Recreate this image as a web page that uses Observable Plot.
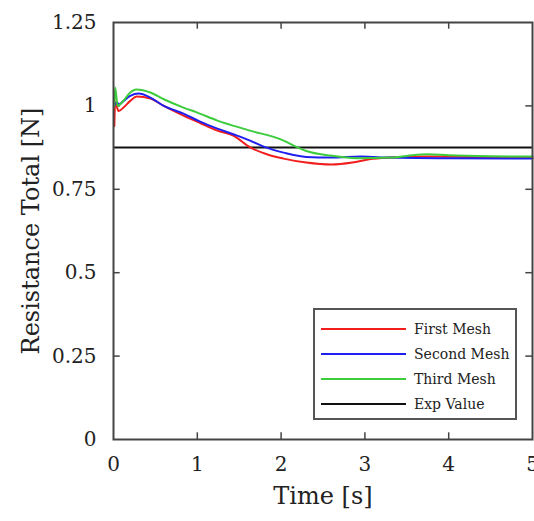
<!DOCTYPE html>
<html>
<head>
<meta charset="utf-8">
<script src="https://cdn.jsdelivr.net/npm/d3@7"></script>
<script src="https://cdn.jsdelivr.net/npm/@observablehq/plot@0.6"></script>
<style>
  body { margin: 0; background: #fff; }
  #wrap { position: relative; width: 534px; height: 521px; font-family: "DejaVu Serif", serif; }
  #legend { position: absolute; left: 313px; top: 308px; width: 200px; height: 108px; border: 2px solid #555; background: #fff; box-sizing: content-box; }
  .row { position: absolute; left: 0; height: 25px; display: flex; align-items: center; }
  .sw { width: 85px; height: 2px; margin-left: 6px; margin-right: 8px; }
  .lt { font-size: 14px; color: #222; }
</style>
</head>
<body>
<div id="wrap"></div>
<script>
const seriesNames = ["First Mesh", "Second Mesh", "Third Mesh", "Exp Value"];
const seriesColors = ["#f21d1d", "#1f1ff0", "#3ccc3c", "#111111"];

const firstT = [0.01, 0.02, 0.06, 0.12, 0.2, 0.28, 0.44, 0.6, 0.835, 1.04, 1.24, 1.43, 1.63, 1.83, 2.03, 2.3, 2.6, 2.85, 3.05, 3.3, 3.75, 4.5, 5.0];
const firstV = [0.94, 1.012, 0.985, 0.995, 1.015, 1.028, 1.022, 1.0, 0.971, 0.948, 0.926, 0.911, 0.876, 0.855, 0.842, 0.83, 0.824, 0.83, 0.84, 0.845, 0.848, 0.846, 0.845];

const secondT = [0.01, 0.04, 0.07, 0.12, 0.2, 0.3, 0.44, 0.6, 0.835, 1.04, 1.24, 1.43, 1.63, 1.8, 2.03, 2.3, 2.6, 2.95, 3.3, 4.0, 5.0];
const secondV = [1.0, 1.01, 1.005, 1.015, 1.03, 1.037, 1.025, 1.0, 0.977, 0.952, 0.932, 0.915, 0.896, 0.877, 0.86, 0.847, 0.845, 0.848, 0.845, 0.843, 0.842];

const thirdT = [0.01, 0.02, 0.05, 0.1, 0.2, 0.27, 0.35, 0.44, 0.6, 0.835, 1.0, 1.24, 1.63, 2.03, 2.15, 2.3, 2.59, 2.9, 3.3, 3.5, 3.75, 4.0, 4.5, 5.0];
const thirdV = [1.0, 1.055, 1.0, 1.01, 1.04, 1.049, 1.047, 1.04, 1.02, 0.995, 0.98, 0.956, 0.926, 0.896, 0.881, 0.865, 0.851, 0.843, 0.845, 0.85, 0.855, 0.852, 0.849, 0.848];

const expValue = 0.875;

const xTicks = [0, 1, 2, 3, 4, 5];
const xTickLabels = ["0", "1", "2", "3", "4", "5"];
const yTicks = [0, 0.25, 0.5, 0.75, 1, 1.25];
const yTickLabels = ["0", "0.25", "0.5", "0.75", "1", "1.25"];
const xTitle = "Time [s]";
const yTitle = "Resistance Total [N]";

const toRows = (T, V, name) => T.map((t, i) => ({t, v: V[i], name}));
const data = [
  ...toRows(firstT, firstV, seriesNames[0]),
  ...toRows(secondT, secondV, seriesNames[1]),
  ...toRows(thirdT, thirdV, seriesNames[2])
];

const chart = Plot.plot({
  width: 534,
  height: 521,
  marginLeft: 113,
  marginRight: 2,
  marginTop: 22,
  marginBottom: 82,
  style: { fontFamily: "DejaVu Serif, serif", color: "#222", background: "#fff" },
  x: { domain: [0, 5] },
  y: { domain: [0, 1.25] },
  color: { domain: seriesNames, range: seriesColors },
  marks: [
    Plot.axisX({ ticks: xTicks, tickFormat: d => xTickLabels[xTicks.indexOf(d)], tickSize: 0, tickPadding: 17, fontSize: 20, label: null }),
    Plot.axisY({ ticks: yTicks, tickFormat: d => yTickLabels[yTicks.indexOf(d)], tickSize: 0, tickPadding: 17, fontSize: 20, label: null }),
    Plot.ruleX(xTicks.slice(1, -1), { x: d => d, y1: 0, y2: 0.02, stroke: "#444", strokeWidth: 1.5 }),
    Plot.ruleX(xTicks.slice(1, -1), { x: d => d, y1: 1.25, y2: 1.23, stroke: "#444", strokeWidth: 1.5 }),
    Plot.ruleY(yTicks.slice(1, -1), { y: d => d, x1: 0, x2: 0.08, stroke: "#444", strokeWidth: 1.5 }),
    Plot.ruleY(yTicks.slice(1, -1), { y: d => d, x1: 5, x2: 4.92, stroke: "#444", strokeWidth: 1.5 }),
    Plot.ruleY([expValue], { stroke: seriesColors[3], strokeWidth: 2 }),
    Plot.line(data, { x: "t", y: "v", z: "name", stroke: "name", strokeWidth: 2, curve: "monotone-x" }),
    Plot.frame({ stroke: "#444", strokeWidth: 2 }),
    Plot.text([xTitle], { frameAnchor: "bottom", dy: 64, fontSize: 24, fill: "#222" }),
    Plot.text([yTitle], { frameAnchor: "left", textAnchor: "middle", rotate: -90, dx: -82, fontSize: 24, fill: "#222" })
  ]
});

const wrap = document.getElementById("wrap");
wrap.appendChild(chart);

const legend = document.createElement("div");
legend.id = "legend";
seriesNames.forEach((name, i) => {
  const row = document.createElement("div");
  row.className = "row";
  row.style.top = (6 + i * 25) + "px";
  const sw = document.createElement("div");
  sw.className = "sw";
  sw.style.background = seriesColors[i];
  const lt = document.createElement("span");
  lt.className = "lt";
  lt.textContent = name;
  row.appendChild(sw);
  row.appendChild(lt);
  legend.appendChild(row);
});
wrap.appendChild(legend);
</script>
</body>
</html>
